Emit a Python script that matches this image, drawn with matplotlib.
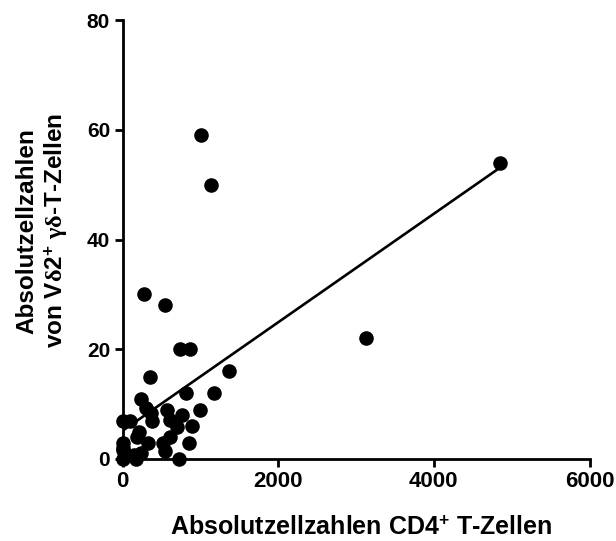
import numpy as np
import matplotlib
matplotlib.use("Agg")
import matplotlib.pyplot as plt

# data: CD4+ counts vs Vd2+ gd T cell counts
cd4 = [1010, 1141, 4854, 3131, 273, 545, 742, 864, 348, 1369,
       813, 1172, 237, 1000, 571, 763, 889, 848, 722, 172,
       0, 91, 303, 359, 384, 217, 182, 333, 242, 0,
       0, 0, 606, 697, 611, 520, 545, 0, 141]
vd2 = [59, 50, 54, 22, 30, 28, 20, 20, 15, 16,
       12, 12, 11, 9, 9, 8, 6, 3, 0, 0,
       7, 7, 9.3, 8.4, 6.9, 4.9, 4, 3, 1.1, 3,
       2, 0, 7.1, 5.9, 4, 3, 1.5, 1.7, 0.7]

x_ticks = [0, 2000, 4000, 6000]
y_ticks = [0, 20, 40, 60, 80]

plt.rcParams['font.family'] = 'Liberation Sans'
plt.rcParams['font.weight'] = 'bold'
plt.rcParams['mathtext.fontset'] = 'custom'
plt.rcParams['mathtext.rm'] = 'Liberation Serif'
plt.rcParams['mathtext.it'] = 'Liberation Serif'
plt.rcParams['mathtext.bf'] = 'Liberation Sans:bold'

fig = plt.figure(figsize=(6.16, 5.41), dpi=100)
ax = fig.add_axes([0.199, 0.1516, 0.758, 0.8114])

ax.scatter(cd4, vd2, s=110, color='black', zorder=3, clip_on=False, linewidths=0)

# linear regression line over the data range
slope, inter = np.polyfit(cd4, vd2, 1)
xl = np.array([0, max(cd4)])
ax.plot(xl, inter + slope * xl, color='black', linewidth=1.9, zorder=2)

ax.set_xlim(0, 6000)
ax.set_ylim(0, 80)
ax.set_xticks(x_ticks)
ax.set_yticks(y_ticks)
for s in ['top', 'right']:
    ax.spines[s].set_visible(False)
for s in ['left', 'bottom']:
    ax.spines[s].set_linewidth(2)
ax.tick_params(direction='out', length=6, width=2, pad=3)
ax.tick_params(axis='x', labelsize=16)
ax.tick_params(axis='y', labelsize=15)

ax.set_xlabel(r"Absolutzellzahlen CD4$^{\mathbf{+}}$ T-Zellen", fontsize=18, fontweight='bold')
ax.xaxis.label.set_va('baseline')
ax.xaxis.set_label_coords(0.51, -0.17)
ax.set_ylabel("Absolutzellzahlen\n" + r"von V$\mathrm{\delta}$2$^{\mathbf{+}}$ $\mathrm{\gamma\delta}$-T-Zellen",
              fontsize=17.5, fontweight='bold', linespacing=1.15)
ax.yaxis.label.set_va('center')
ax.yaxis.set_label_coords(-0.172, 0.52)

plt.savefig("out.png", dpi=100)
